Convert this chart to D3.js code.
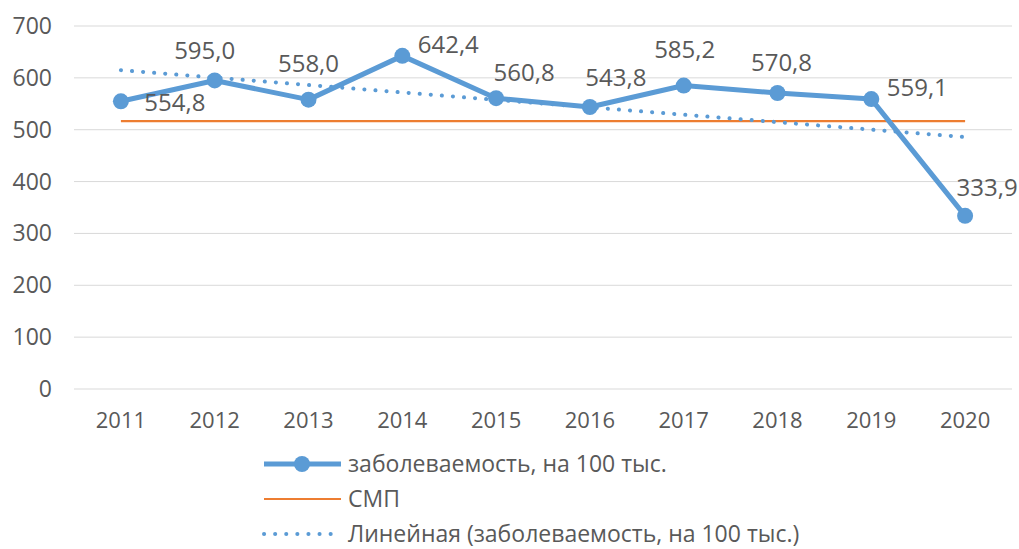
<!DOCTYPE html>
<html>
<head>
<meta charset="utf-8">
<script src="https://cdn.jsdelivr.net/npm/d3@7"></script>
<style>
  body { margin: 0; background: #fff; }
  svg { display: block; font-family: "Open Sans", "Liberation Sans", sans-serif; }
</style>
</head>
<body>
<svg id="chart" width="1019" height="549"></svg>
<script>
const years = ["2011", "2012", "2013", "2014", "2015", "2016", "2017", "2018", "2019", "2020"];
const incidence = [554.8, 595.0, 558.0, 642.4, 560.8, 543.8, 585.2, 570.8, 559.1, 333.9];
const smp = 516.5;                 // СМП level
const trendEnds = [614.9, 485.9];  // linear trend, first and last year
const yTicks = [0, 100, 200, 300, 400, 500, 600, 700];
const legendLabels = ["заболеваемость, на 100 тыс.", "СМП", "Линейная (заболеваемость, на 100 тыс.)"];

// where each data label sits relative to its point (dx, dy)
const labelOffsets = [[54, 1], [-10, -30], [0, -36], [46, -11], [28, -26], [26, -29], [1, -36], [4, -30], [46, -11], [22, -28]];

const blue = "#5b9bd5", orange = "#ed7d31", grey = "#595959";

const svg = d3.select("#chart");

const x = d3.scaleBand().domain(years).range([74, 1012]).padding(0);
const cx = d => x(d) + x.bandwidth() / 2;
const y = d3.scaleLinear().domain([0, 700]).range([389, 26]);

// gridlines
svg.append("g").selectAll("line")
  .data(yTicks)
  .join("line")
    .attr("x1", 74).attr("x2", 1012)
    .attr("y1", d => y(d)).attr("y2", d => y(d))
    .attr("stroke", "#d9d9d9").attr("stroke-width", 1);

// y axis labels
svg.append("g").selectAll("text")
  .data(yTicks)
  .join("text")
    .attr("x", 52).attr("y", d => y(d))
    .attr("dy", "0.35em")
    .attr("text-anchor", "end")
    .attr("fill", grey).attr("font-size", 23)
    .text(d => d);

// x axis labels
svg.append("g").selectAll("text")
  .data(years)
  .join("text")
    .attr("x", d => cx(d)).attr("y", 420)
    .attr("dy", "0.35em")
    .attr("text-anchor", "middle")
    .attr("fill", grey).attr("font-size", 22)
    .text(d => d);

// СМП line
svg.append("line")
  .attr("x1", cx(years[0])).attr("x2", cx(years[years.length - 1]))
  .attr("y1", y(smp)).attr("y2", y(smp))
  .attr("stroke", orange).attr("stroke-width", 2.2);

// trend line (dotted)
svg.append("line")
  .attr("x1", cx(years[0])).attr("x2", cx(years[years.length - 1]))
  .attr("y1", y(trendEnds[0])).attr("y2", y(trendEnds[1]))
  .attr("stroke", blue).attr("stroke-width", 4)
  .attr("stroke-linecap", "round")
  .attr("stroke-dasharray", "0.1 11");

// main series
const pts = years.map((yr, i) => ({ year: yr, value: incidence[i], off: labelOffsets[i] }));

svg.append("path")
  .datum(pts)
  .attr("fill", "none")
  .attr("stroke", blue).attr("stroke-width", 5)
  .attr("stroke-linejoin", "round")
  .attr("d", d3.line().x(d => cx(d.year)).y(d => y(d.value)));

svg.append("g").selectAll("circle")
  .data(pts)
  .join("circle")
    .attr("cx", d => cx(d.year)).attr("cy", d => y(d.value))
    .attr("r", 8)
    .attr("fill", blue);

svg.append("g").selectAll("text")
  .data(pts)
  .join("text")
    .attr("x", d => cx(d.year) + d.off[0])
    .attr("y", d => y(d.value) + d.off[1])
    .attr("dy", "0.35em")
    .attr("text-anchor", "middle")
    .attr("fill", grey).attr("font-size", 24)
    .text(d => d3.format(".1f")(d.value).replace(".", ","));

// legend
const legend = svg.append("g").selectAll("g")
  .data(legendLabels)
  .join("g")
    .attr("transform", (d, i) => `translate(0, ${464 + i * 35})`);

legend.append("line")
  .attr("x1", 264).attr("x2", 341).attr("y1", 0).attr("y2", 0)
  .attr("stroke", (d, i) => i === 1 ? orange : blue)
  .attr("stroke-width", (d, i) => i === 0 ? 5 : i === 1 ? 2.2 : 4)
  .attr("stroke-linecap", (d, i) => i === 2 ? "round" : "butt")
  .attr("stroke-dasharray", (d, i) => i === 2 ? "0.1 11" : null);

legend.filter((d, i) => i === 0).append("circle")
  .attr("cx", 302).attr("cy", 0).attr("r", 8).attr("fill", blue);

legend.append("text")
  .attr("x", 348).attr("y", 0).attr("dy", "0.35em")
  .attr("fill", grey).attr("font-size", 23)
  .text(d => d);
</script>
</body>
</html>
